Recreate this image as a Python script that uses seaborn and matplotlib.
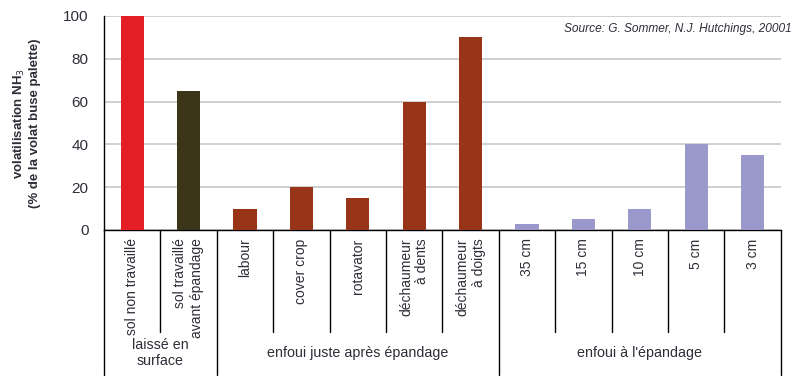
import numpy as np
import pandas as pd
import matplotlib
matplotlib.use('Agg')
import matplotlib.pyplot as plt
import matplotlib.transforms as mtransforms
import seaborn as sns

# data
categories = ['sol non travaillé', 'sol travaillé\navant épandage', 'labour',
              'cover crop', 'rotavator', 'déchaumeur\nà dents',
              'déchaumeur\nà doigts', '35 cm', '15 cm', '10 cm', '5 cm', '3 cm']
values = [100, 65, 10, 20, 15, 60, 90, 3, 5, 10, 40, 35]
bar_colors = ['#e31e24', '#3b3619', '#983518', '#983518', '#983518', '#983518',
              '#983518', '#9b98cb', '#9b98cb', '#9b98cb', '#9b98cb', '#9b98cb']
groups = ['laissé en\nsurface', 'enfoui juste après épandage', "enfoui à l'épandage"]
group_bounds = [(0, 1), (2, 6), (7, 11)]

sns.set_style('white')
plt.rcParams['font.family'] = ['Liberation Sans', 'DejaVu Sans']
txt = '#2e2e38'

df = pd.DataFrame({'cat': categories, 'val': values})

fig = plt.figure(figsize=(8, 3.87), dpi=100)
ax = fig.add_axes([0.13, 0.4057, 0.846, 0.553])

sns.barplot(data=df, x='cat', y='val', hue='cat', palette=bar_colors,
            legend=False, width=0.41, saturation=1, linewidth=0, ax=ax,
            zorder=3)

ax.set_ylim(0, 100)
ax.set_xlim(-0.5, len(categories) - 0.5)
ax.set_yticks(np.arange(0, 101, 20))
ax.yaxis.grid(True, color='#c8c8c8', lw=1.2, zorder=0)
ax.set_axisbelow(True)
for s in ['top', 'right']:
    ax.spines[s].set_visible(False)
ax.spines['left'].set_color('black')
ax.spines['bottom'].set_color('black')
ax.spines['left'].set_linewidth(1.0)
ax.spines['bottom'].set_linewidth(1.0)

ax.tick_params(axis='y', length=5, width=1, color='black', labelsize=11,
               labelcolor=txt, pad=6)
ax.tick_params(axis='x', length=0, pad=6)
ax.set_xticks(range(len(categories)))
ax.set_xticklabels(categories, rotation=90, va='top', ha='center',
                   multialignment='right', fontsize=10, color=txt)
ax.set_xlabel('')
ax.set_ylabel('volatilisation NH$_3$\n(% de la volat buse palette)',
              fontsize=9.5, fontweight='bold', color=txt, labelpad=16)

# table lines under the axis
trans = mtransforms.blended_transform_factory(ax.transData, ax.transAxes)
long_seps = {-0.5, 1.5, 6.5, 11.5}
for i in range(len(categories) + 1):
    xs = i - 0.5
    y_end = -0.678 if xs in long_seps else -0.477
    ax.plot([xs, xs], [0, y_end], color='black', lw=1.0, transform=trans,
            clip_on=False)

for name, (a, b) in zip(groups, group_bounds):
    ax.text((a + b) / 2, -0.575, name, transform=trans, ha='center',
            va='center', fontsize=10.3, color=txt, multialignment='center')

fig.text(0.99, 1 - 29 / 387, 'Source: G. Sommer, N.J. Hutchings, 20001',
         ha='right', va='center', fontsize=8.6, style='italic', color=txt)

fig.savefig('out.png', dpi=100)
